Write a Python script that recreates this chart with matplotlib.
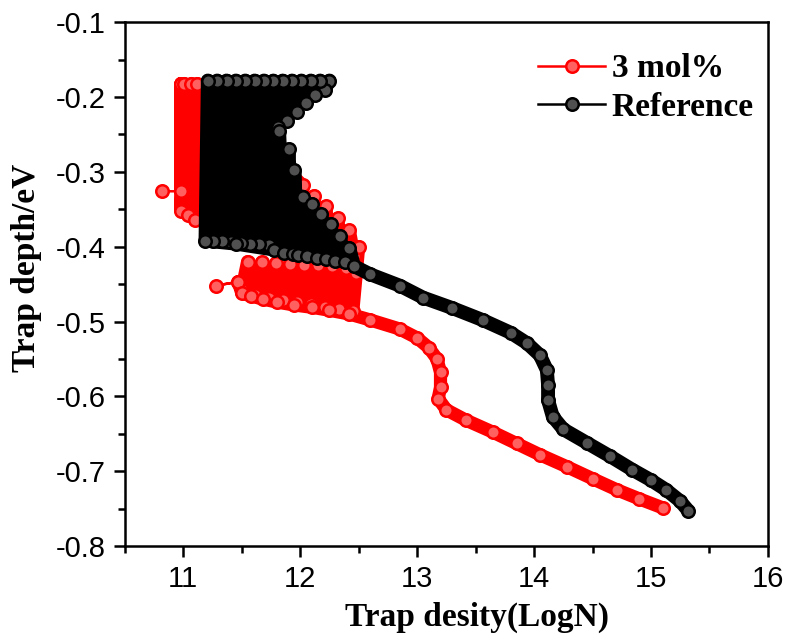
import numpy as np
import matplotlib
matplotlib.use('Agg')
import matplotlib.pyplot as plt
from matplotlib.lines import Line2D
from matplotlib.ticker import MultipleLocator

# ---- data (trap density LogN, trap depth eV) ----
# red: 3 mol%  (path through the scatter cloud, then the tail)
red_x = [10.82, 10.98,
         10.98, 10.98, 11.01, 11.04, 11.07, 11.10, 11.12,
         11.40, 11.60, 11.80, 11.90,
         12.02, 12.05, 12.12, 12.15, 12.22, 12.25, 12.32, 12.36, 12.42, 12.46, 12.50,
         12.48, 12.45, 12.39, 12.33, 12.27, 12.21, 12.15, 12.09, 12.03, 11.97,
         11.91, 11.85, 11.79, 11.73, 11.67, 11.61, 11.55, 11.50, 11.47,
         11.28, 11.47,
         11.50, 11.58, 11.68, 11.80, 11.95, 12.10, 12.25, 12.42,
         12.60, 12.85, 13.00, 13.10, 13.17, 13.20, 13.20, 13.18, 13.25, 13.42,
         13.65, 13.85, 14.05, 14.28, 14.50, 14.71, 14.90, 15.10]
red_y = [-0.326, -0.326,
         -0.182, -0.352, -0.182, -0.358, -0.182, -0.364, -0.182,
         -0.390, -0.185, -0.395, -0.300,
         -0.318, -0.400, -0.332, -0.405, -0.346, -0.410, -0.362, -0.412, -0.378, -0.412, -0.400,
         -0.435, -0.486, -0.428, -0.483, -0.426, -0.480, -0.425, -0.477, -0.424, -0.474,
         -0.423, -0.471, -0.422, -0.468, -0.421, -0.464, -0.420, -0.458, -0.447,
         -0.452, -0.447,
         -0.462, -0.466, -0.470, -0.474, -0.478, -0.481, -0.485, -0.490,
         -0.498, -0.510, -0.522, -0.535, -0.550, -0.568, -0.588, -0.603, -0.618, -0.632,
         -0.648, -0.663, -0.678, -0.694, -0.710, -0.725, -0.737, -0.749]
red_spurs = [0, 43]   # isolated points joined to the cloud by a thin line only

# black: Reference
ref_x = [12.25, 12.21, 12.17, 12.13, 12.09, 12.05, 12.01, 11.97, 11.93, 11.89,
         11.85, 11.81,
         11.77, 11.73, 11.69, 11.65, 11.61, 11.57, 11.53, 11.49, 11.45, 11.41,
         11.37, 11.33, 11.29, 11.25, 11.21, 11.19,
         11.45, 11.78,
         11.82, 11.86, 11.90, 11.94, 11.95, 11.98, 12.02, 12.06, 12.10, 12.14,
         12.18, 12.22, 12.26, 12.30, 12.34, 12.38, 12.42, 12.46,
         12.60, 12.85, 13.05, 13.30, 13.56, 13.80, 13.94, 14.05, 14.11,
         14.12, 14.12, 14.16, 14.25, 14.45, 14.65, 14.84, 15.00, 15.13, 15.25, 15.32]
ref_y = [-0.178, -0.190, -0.178, -0.198, -0.178, -0.208, -0.178, -0.220, -0.178, -0.232,
         -0.178, -0.240,
         -0.178, -0.398, -0.178, -0.397, -0.178, -0.396, -0.178, -0.395, -0.178, -0.394,
         -0.178, -0.393, -0.178, -0.392, -0.178, -0.392,
         -0.396, -0.404,
         -0.245, -0.408, -0.270, -0.410, -0.298, -0.411, -0.333, -0.413, -0.343, -0.415,
         -0.357, -0.417, -0.370, -0.419, -0.386, -0.421, -0.402, -0.426,
         -0.437, -0.452, -0.468, -0.482, -0.498, -0.515, -0.529, -0.545, -0.565,
         -0.585, -0.605, -0.627, -0.644, -0.662, -0.680, -0.698, -0.712, -0.725, -0.740, -0.753]

x_ticks = [11, 12, 13, 14, 15, 16]
y_ticks = [-0.8, -0.7, -0.6, -0.5, -0.4, -0.3, -0.2, -0.1]

serif = ['Liberation Serif', 'DejaVu Serif']
sans = ['Liberation Sans', 'DejaVu Sans']

fig = plt.figure(figsize=(7.9, 6.42), dpi=100)
ax = fig.add_axes([0.158, 0.1495, 0.814, 0.816])

# red series: thick band + sphere-like markers
rx = np.array(red_x)
ry = np.array(red_y)
band_y = ry.copy()
band_y[red_spurs] = np.nan
ax.plot(rx, band_y, color='#ff0000', lw=9.5, solid_capstyle='round',
        solid_joinstyle='round', zorder=2)
ax.plot(rx, ry, color='#ff0000', lw=1.8, marker='o', ms=9,
        mfc='#ff6060', mec='#ff0000', mew=1.8, zorder=3)

# black series
bx = np.array(ref_x)
by = np.array(ref_y)
ax.plot(bx, by, color='black', lw=10, solid_capstyle='round',
        solid_joinstyle='round', zorder=4)
ax.plot(bx, by, color='black', lw=1.8, marker='o', ms=9,
        mfc='#505050', mec='black', mew=1.8, zorder=5)

ax.set_xlim(10.5, 16)
ax.set_ylim(-0.8, -0.1)
ax.set_xticks(x_ticks)
ax.set_yticks(y_ticks)
ax.set_yticklabels(['%.1f' % v for v in y_ticks])
ax.xaxis.set_minor_locator(MultipleLocator(0.5))
ax.yaxis.set_minor_locator(MultipleLocator(0.05))
ax.tick_params(which='both', direction='out', width=1.8, top=False, right=False)
ax.tick_params(which='major', length=8, labelsize=21, pad=6)
ax.tick_params(which='minor', length=5)
for lab in ax.get_xticklabels() + ax.get_yticklabels():
    lab.set_family(sans)
for sp in ax.spines.values():
    sp.set_linewidth(1.8)

ax.set_xlabel('Trap desity(LogN)', fontsize=24, fontweight='bold', family=serif)
ax.set_ylabel('Trap depth/eV', fontsize=24, fontweight='bold', family=serif)
ax.xaxis.set_label_coords(0.547, -0.106)
ax.yaxis.set_label_coords(-0.129, 0.53)

handles = [
    Line2D([], [], color='#ff0000', lw=1.8, marker='o', ms=9,
           mfc='#ff6060', mec='#ff0000', mew=1.8),
    Line2D([], [], color='black', lw=1.8, marker='o', ms=9,
           mfc='#505050', mec='black', mew=1.8),
]
ax.legend(handles, ['3 mol%', 'Reference'], loc='upper left',
          bbox_to_anchor=(0.607, 0.985), frameon=False, handlelength=2.0,
          handletextpad=0.2, labelspacing=0.22, borderpad=0.2,
          prop={'family': serif, 'weight': 'bold', 'size': 24})

fig.savefig('out.png', dpi=100)
